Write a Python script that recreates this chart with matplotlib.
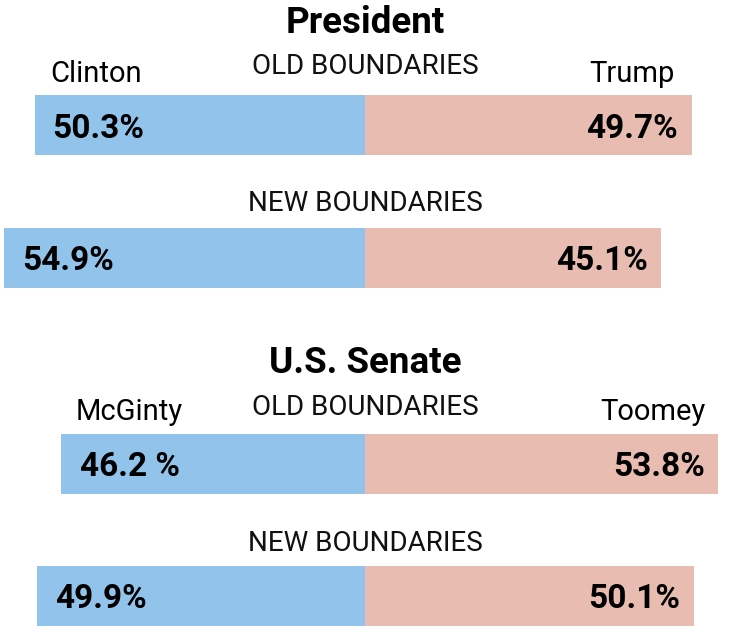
import matplotlib
matplotlib.use('Agg')
import matplotlib.pyplot as plt

# ---- data ----
races = ['President', 'U.S. Senate']
dem_names = ['Clinton', 'McGinty']
rep_names = ['Trump', 'Toomey']
boundaries = ['OLD BOUNDARIES', 'NEW BOUNDARIES']
dem_share = [[50.3, 54.9], [46.2, 49.9]]
rep_share = [[49.7, 45.1], [53.8, 50.1]]
dem_labels = [['50.3%', '54.9%'], ['46.2 %', '49.9%']]
rep_labels = [['49.7%', '45.1%'], ['53.8%', '50.1%']]

# ---- style / layout ----
BLUE = '#92c4eb'
RED = '#e9bcb2'
FONT = 'Roboto'
W, H = 730, 633
PX_PER_PCT = 6.57

bar_centers = [[125, 258], [464, 596]]
bar_h = 60
title_base = [33, 373]
name_base = [82, 420]
bound_base = [[74, 211], [415, 551]]
name_off_left = [11, 10]
name_off_right = [-12, -9.5]

fig = plt.figure(figsize=(W / 100, H / 100), dpi=100)
ax = fig.add_axes([0, 0, 1, 1])
half = (W / 2) / PX_PER_PCT
ax.set_xlim(-half, half)
ax.set_ylim(H, 0)
ax.axis('off')

for r, race in enumerate(races):
    ax.text(0, title_base[r], race, ha='center', va='baseline',
            fontsize=26.5, fontweight='bold', family=FONT, color='black')
    for b in range(2):
        yc = bar_centers[r][b]
        d = dem_share[r][b]
        p = rep_share[r][b]
        ax.barh(yc, -d, height=bar_h, left=0, color=BLUE, edgecolor='none')
        ax.barh(yc, p, height=bar_h, left=0, color=RED, edgecolor='none')
        ax.text(0, bound_base[r][b], boundaries[b], ha='center', va='baseline',
                fontsize=20, family=FONT, color='#111111')
        ax.annotate(dem_labels[r][b], xy=(-d, yc), xytext=(13, 0),
                    textcoords='offset points', ha='left', va='center_baseline',
                    fontsize=24, fontweight='bold', family=FONT, color='black')
        ax.annotate(rep_labels[r][b], xy=(p, yc), xytext=(-10, 0),
                    textcoords='offset points', ha='right', va='center_baseline',
                    fontsize=24, fontweight='bold', family=FONT, color='black')
        if b == 0:
            ax.annotate(dem_names[r], xy=(-d, name_base[r]), xytext=(name_off_left[r], 0),
                        textcoords='offset points', ha='left', va='baseline',
                        fontsize=21, family=FONT, color='black')
            ax.annotate(rep_names[r], xy=(p, name_base[r]), xytext=(name_off_right[r], 0),
                        textcoords='offset points', ha='right', va='baseline',
                        fontsize=21, family=FONT, color='black')

fig.savefig('out.png', dpi=100)
